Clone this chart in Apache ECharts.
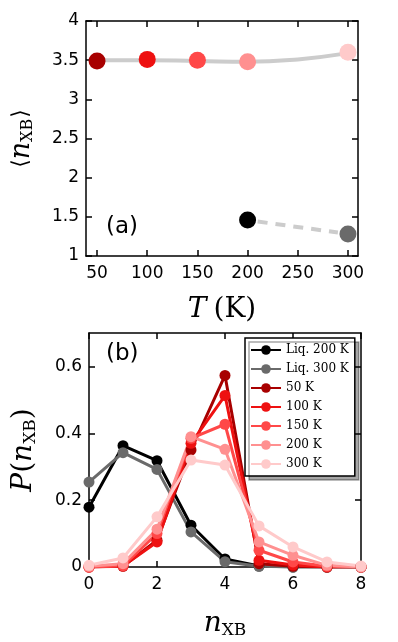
<!DOCTYPE html>
<html>
<head>
<meta charset="utf-8">
<script src="https://cdn.jsdelivr.net/npm/echarts@6/dist/echarts.min.js"></script>
<style>
  html, body { margin: 0; padding: 0; background: #fff; }
  #chart { width: 398px; height: 642px; }
</style>
</head>
<body>
<div id="chart"></div>
<script>
  // panel (a): mean number of XB per molecule vs temperature
  var crystalT = [50, 100, 150, 200, 300]
  var crystalN = [3.49, 3.51, 3.50, 3.48, 3.60]
  var liquidT = [200, 300]
  var liquidN = [1.46, 1.28]
  // grey guide curves
  var fitT = [50, 100, 150, 200, 250, 295]
  var fitN = [3.50, 3.50, 3.49, 3.48, 3.51, 3.58]
  var dashT = [210, 290]
  var dashN = [1.44, 1.30]
  var tTicks = [50, 100, 150, 200, 250, 300]

  // panel (b): distribution P(n_XB)
  var nXB = [0, 1, 2, 3, 4, 5, 6, 7, 8]
  var seriesNames = ['Liq. 200 K', 'Liq. 300 K', '50 K', '100 K', '150 K', '200 K', '300 K']
  var pLiq200 = [0.179, 0.363, 0.318, 0.125, 0.024, 0.003, 0, 0, 0]
  var pLiq300 = [0.254, 0.342, 0.292, 0.105, 0.016, 0.002, 0, 0, 0]
  var p50 = [0, 0.002, 0.08, 0.35, 0.573, 0.01, 0.002, 0, 0]
  var p100 = [0, 0.003, 0.075, 0.37, 0.513, 0.02, 0.006, 0, 0]
  var p150 = [0, 0.004, 0.10, 0.385, 0.427, 0.05, 0.015, 0.002, 0]
  var p200 = [0.002, 0.01, 0.113, 0.39, 0.352, 0.075, 0.035, 0.005, 0]
  var p300 = [0.005, 0.027, 0.15, 0.32, 0.305, 0.123, 0.06, 0.015, 0.003]
  var pTicks = [0, 0.2, 0.4, 0.6]

  var crystalColors = ['#a80000', '#ee1111', '#ff4848', '#ff9090', '#ffcaca']
  var liquidColors = ['#000000', '#6a6a6a']

  var sans = 'DejaVu Sans'
  var serif = 'DejaVu Serif'

  function pairs (xs, ys) {
    return xs.map(function (x, i) { return [x, ys[i]] })
  }

  function tickStyle () {
    return { show: true, inside: true, length: 6, lineStyle: { color: '#000', width: 1.5 } }
  }
  function axisLineStyle () {
    return { show: true, onZero: false, lineStyle: { color: '#000', width: 1.5 } }
  }
  function labelStyle (extra) {
    return Object.assign({ color: '#000', fontFamily: sans, fontSize: 17 }, extra)
  }

  // copy of an axis on the opposite side: line + ticks only, like the mpl frame
  function frameAxis (base, pos) {
    var tick = tickStyle()
    if (base.axisTick.customValues) tick.customValues = base.axisTick.customValues
    return Object.assign({}, base, {
      position: pos,
      axisLine: axisLineStyle(),
      axisLabel: { show: false },
      axisTick: tick,
      name: ''
    })
  }

  var xTop = {
    gridIndex: 0, type: 'value', min: 39, max: 310,
    axisLine: axisLineStyle(), splitLine: { show: false },
    axisTick: Object.assign(tickStyle(), { customValues: tTicks }),
    axisLabel: labelStyle({ customValues: tTicks, margin: 9 }),
    name: '{i|T}{r|(K)}', nameLocation: 'middle', nameGap: 40,
    nameTextStyle: { rich: {
      i: { fontFamily: serif, fontStyle: 'italic', fontSize: 28, color: '#000', padding: [0, 7, 0, 0] },
      r: { fontFamily: serif, fontSize: 28, color: '#000' }
    } }
  }
  var yTop = {
    gridIndex: 0, type: 'value', min: 1, max: 4, interval: 0.5,
    axisLine: axisLineStyle(), splitLine: { show: false },
    axisTick: tickStyle(),
    axisLabel: labelStyle({ margin: 7 }),
    name: '{r|⟨}{i|n}{s|XB}{r|⟩}', nameLocation: 'middle', nameGap: 50,
    nameTextStyle: { rich: {
      r: { fontFamily: serif, fontSize: 22, color: '#000' },
      i: { fontFamily: serif, fontStyle: 'italic', fontSize: 27, color: '#000' },
      s: { fontFamily: serif, fontSize: 16, color: '#000', padding: [13, 1, 0, 0] }
    } }
  }
  var xBot = {
    gridIndex: 1, type: 'value', min: 0, max: 8, interval: 2,
    axisLine: axisLineStyle(), splitLine: { show: false },
    axisTick: tickStyle(),
    axisLabel: labelStyle({ margin: 9 }),
    name: '{i|n}{s|XB}', nameLocation: 'middle', nameGap: 41,
    nameTextStyle: { rich: {
      i: { fontFamily: serif, fontStyle: 'italic', fontSize: 28, color: '#000' },
      s: { fontFamily: serif, fontSize: 17, color: '#000', padding: [14, 0, 0, 0] }
    } }
  }
  var yBot = {
    gridIndex: 1, type: 'value', min: 0, max: 0.7,
    axisLine: axisLineStyle(), splitLine: { show: false },
    axisTick: Object.assign(tickStyle(), { customValues: pTicks }),
    axisLabel: labelStyle({ customValues: pTicks, margin: 7 }),
    name: '{i|P}{r|(}{i|n}{s|XB}{r|)}', nameLocation: 'middle', nameGap: 50,
    nameTextStyle: { rich: {
      i: { fontFamily: serif, fontStyle: 'italic', fontSize: 28, color: '#000' },
      r: { fontFamily: serif, fontSize: 28, color: '#000' },
      s: { fontFamily: serif, fontSize: 17, color: '#000', padding: [14, 0, 0, 0] }
    } }
  }

  var botData = [pLiq200, pLiq300, p50, p100, p150, p200, p300]
  var botColors = liquidColors.concat(crystalColors)
  var botSeries = botData.map(function (d, i) {
    return {
      name: seriesNames[i], type: 'line', xAxisIndex: 2, yAxisIndex: 2,
      data: pairs(nXB, d), symbol: 'circle', symbolSize: 11,
      itemStyle: { color: botColors[i], opacity: 1 },
      lineStyle: { color: botColors[i], width: 3 },
      emphasis: { disabled: true }
    }
  })

  var option = {
    animation: false,
    grid: [
      { left: 85, right: 40, top: 21, height: 235 },
      { left: 89, right: 37, top: 333, height: 234 }
    ],
    xAxis: [xTop, frameAxis(xTop, 'top'), xBot, frameAxis(xBot, 'top')],
    yAxis: [yTop, frameAxis(yTop, 'right'), yBot, frameAxis(yBot, 'right')],
    legend: {
      data: seriesNames, orient: 'vertical', left: 245, top: 338,
      padding: [6, 6, 6, 5], itemGap: 7, itemWidth: 30, itemHeight: 12,
      backgroundColor: '#fff', borderColor: '#000', borderWidth: 1.5, borderRadius: 0,
      shadowColor: 'rgba(0,0,0,0.35)', shadowOffsetX: 4, shadowOffsetY: 4, shadowBlur: 0,
      textStyle: { fontFamily: serif, fontSize: 12, color: '#000' },
      selectedMode: false
    },
    graphic: [
      { type: 'text', left: 106, top: 216, style: { text: '(a)', font: '23px "DejaVu Sans"', fill: '#000' } },
      { type: 'text', left: 106, top: 343, style: { text: '(b)', font: '23px "DejaVu Sans"', fill: '#000' } }
    ],
    series: [
      {
        type: 'line', xAxisIndex: 0, yAxisIndex: 0, data: pairs(fitT, fitN), smooth: true,
        showSymbol: false, lineStyle: { color: '#cccccc', width: 4 }, z: 1
      },
      {
        type: 'line', xAxisIndex: 0, yAxisIndex: 0, data: pairs(dashT, dashN),
        showSymbol: false, lineStyle: { color: '#cccccc', width: 4, type: [10, 8] }, z: 1
      },
      {
        type: 'scatter', xAxisIndex: 0, yAxisIndex: 0, symbolSize: 17, z: 3,
        data: pairs(crystalT, crystalN).map(function (p, i) {
          return { value: p, itemStyle: { color: crystalColors[i], opacity: 1 } }
        })
      },
      {
        type: 'scatter', xAxisIndex: 0, yAxisIndex: 0, symbolSize: 17, z: 3,
        data: pairs(liquidT, liquidN).map(function (p, i) {
          return { value: p, itemStyle: { color: liquidColors[i], opacity: 1 } }
        })
      }
    ].concat(botSeries)
  }

  var chart = echarts.init(document.getElementById('chart'))
  chart.setOption(option)
</script>
</body>
</html>
